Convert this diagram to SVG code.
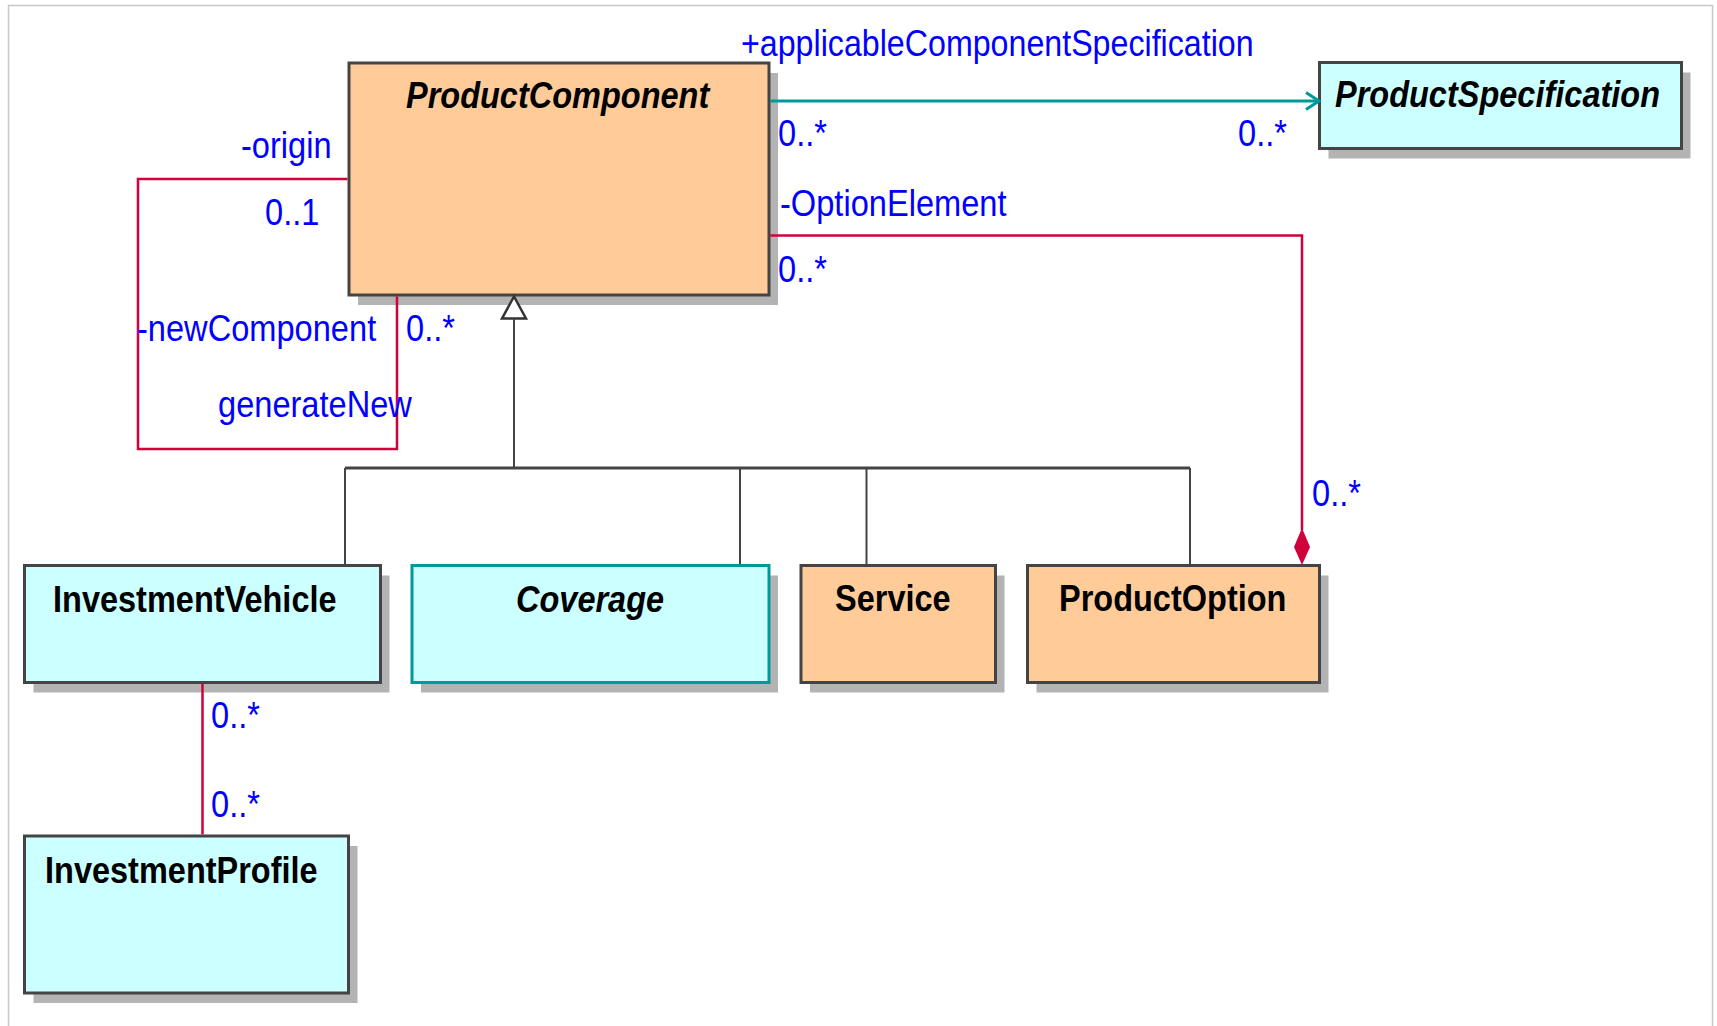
<svg xmlns="http://www.w3.org/2000/svg" width="1717" height="1026" viewBox="0 0 1717 1026">
<defs>
<style>
.frame{fill:none;stroke:#c8c8c8;stroke-width:1.5}
.shadow{fill:#b3b3b3}
.box{stroke:#444444;stroke-width:3}
.peach{fill:#ffcc99}
.cyan{fill:#ccffff}
.teal-b{stroke:#009999}
.title{font-family:"Liberation Sans",Arial,sans-serif;font-size:32.5px;font-weight:bold;fill:#000000}
.it{font-style:italic}
.lbl{font-family:"Liberation Sans",Arial,sans-serif;font-size:32.6px;fill:#0000ff}
.red{fill:none;stroke:#d0003a;stroke-width:2.5}
.teal{fill:none;stroke:#009999;stroke-width:3}
.gen{fill:none;stroke:#444444;stroke-width:2}
.genbar{fill:none;stroke:#444444;stroke-width:3}
</style>
</defs>
<rect x="0" y="0" width="1717" height="1026" fill="#ffffff"/>
<rect class="frame" x="8.5" y="5.5" width="1704" height="1040"/>

<g id="ProductComponent">
  <rect class="shadow" x="358" y="73" width="420" height="232"/>
  <rect class="box peach" x="349" y="63" width="420" height="232"/>
  <text class="title it" transform="translate(406,108) scale(1,1.12)">ProductComponent</text>
</g>

<g id="ProductSpecification">
  <rect class="shadow" x="1328.5" y="72.5" width="362" height="86"/>
  <rect class="box cyan" x="1319.5" y="62.5" width="362" height="86"/>
  <text class="title it" transform="translate(1335,107) scale(1,1.12)">ProductSpecification</text>
</g>

<g id="InvestmentVehicle">
  <rect class="shadow" x="33.5" y="575.5" width="356" height="117"/>
  <rect class="box cyan" x="24.5" y="565.5" width="356" height="117"/>
  <text class="title" transform="translate(53,612) scale(1,1.12)">InvestmentVehicle</text>
</g>

<g id="Coverage">
  <rect class="shadow" x="421" y="575.5" width="357" height="117"/>
  <rect class="box cyan teal-b" x="412" y="565.5" width="357" height="117"/>
  <text class="title it" transform="translate(516,612) scale(1,1.12)">Coverage</text>
</g>

<g id="Service">
  <rect class="shadow" x="810" y="575.5" width="194.5" height="117"/>
  <rect class="box peach" x="801" y="565.5" width="194.5" height="117"/>
  <text class="title" transform="translate(835,611) scale(1,1.12)">Service</text>
</g>

<g id="ProductOption">
  <rect class="shadow" x="1036.5" y="575.5" width="292" height="117"/>
  <rect class="box peach" x="1027.5" y="565.5" width="292" height="117"/>
  <text class="title" transform="translate(1059,611) scale(1,1.12)">ProductOption</text>
</g>

<g id="InvestmentProfile">
  <rect class="shadow" x="33.5" y="846" width="324" height="157"/>
  <rect class="box cyan" x="24.5" y="836" width="324" height="157"/>
  <text class="title" transform="translate(45,883) scale(1,1.12)">InvestmentProfile</text>
</g>

<g id="connectors">
  <polyline class="teal" points="770.5,101 1319,101"/>
  <polyline class="teal" points="1306,92.5 1319,101 1306,109.5"/>
  <polyline class="red" points="770.5,235.5 1302,235.5 1302,530"/>
  <polygon points="1302,528 1310,547 1302,565 1294,547" fill="#d0003a"/>
  <polyline class="red" points="347.5,179 138,179 138,449 397,449 397,296.5"/>
  <line class="red" x1="202.5" y1="684" x2="202.5" y2="834.5"/>
  <polygon points="514,296.5 526,318.5 502,318.5" fill="#ffffff" stroke="#333333" stroke-width="2.5"/>
  <line class="gen" x1="514" y1="318.5" x2="514" y2="468"/>
  <line class="genbar" x1="345" y1="468" x2="1190" y2="468"/>
  <line class="gen" x1="345" y1="468" x2="345" y2="564"/>
  <line class="gen" x1="740" y1="468" x2="740" y2="564"/>
  <line class="gen" x1="866.5" y1="468" x2="866.5" y2="564"/>
  <line class="gen" x1="1190" y1="468" x2="1190" y2="564"/>
</g>

<g id="labels">
  <text class="lbl" style="font-size:32.2px" transform="translate(741,56) scale(1,1.12)">+applicableComponentSpecification</text>
  <text class="lbl" transform="translate(778,146) scale(1,1.12)">0..*</text>
  <text class="lbl" transform="translate(1238,146) scale(1,1.12)">0..*</text>
  <text class="lbl" transform="translate(780,216) scale(1,1.12)">-OptionElement</text>
  <text class="lbl" transform="translate(778,282) scale(1,1.12)">0..*</text>
  <text class="lbl" transform="translate(1312,506) scale(1,1.12)">0..*</text>
  <text class="lbl" transform="translate(241,158) scale(1,1.12)">-origin</text>
  <text class="lbl" transform="translate(265,225) scale(1,1.12)">0..1</text>
  <text class="lbl" transform="translate(137,341) scale(1,1.12)">-newComponent</text>
  <text class="lbl" transform="translate(406,341) scale(1,1.12)">0..*</text>
  <text class="lbl" transform="translate(218,417) scale(1,1.12)">generateNew</text>
  <text class="lbl" transform="translate(211,728) scale(1,1.12)">0..*</text>
  <text class="lbl" transform="translate(211,817) scale(1,1.12)">0..*</text>
</g>
</svg>
